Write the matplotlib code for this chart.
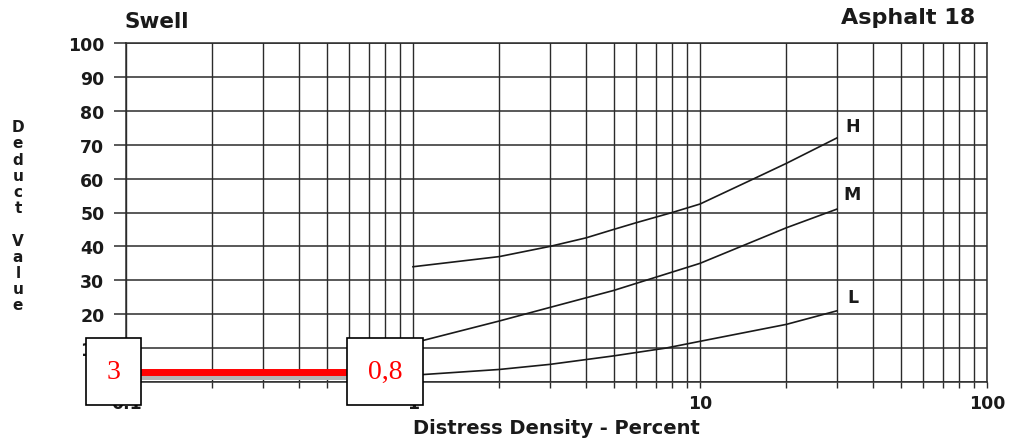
import matplotlib
matplotlib.use("Agg")
import matplotlib.pyplot as plt
from matplotlib.font_manager import FontProperties
from matplotlib.ticker import FixedLocator, FixedFormatter, NullFormatter

# Deduct curves for swell (asphalt), by severity level
density_h = [1, 2, 3, 4, 5, 6, 8, 10, 15, 20, 30]
deduct_h = [34, 37, 40, 42.5, 45, 47, 50, 52.5, 59.5, 64.5, 72]

density_m = [1, 2, 3, 5, 10, 20, 30]
deduct_m = [11.5, 18, 22, 27, 35, 45.5, 51]

density_l = [1, 2, 3, 5, 7.6, 10, 20, 30]
deduct_l = [2, 3.7, 5.2, 7.7, 10, 12, 17, 21]

severity_labels = ["H", "M", "L"]
label_x = 34
label_y = [75.5, 55.5, 25]

# Reading taken off the chart
reading_density = 0.8
reading_deduct = 3
reading_density_text = "0,8"
reading_deduct_text = "3"

x_major = [0.1, 1, 10, 100]
x_major_labels = ["0.1", "1", "10", "100"]
x_minor = [m * d for d in (0.1, 1, 10) for m in range(2, 10)]
y_major = list(range(0, 101, 10))
y_major_labels = [""] + [str(v) for v in y_major[1:]]

W, H = 1018, 439
fig = plt.figure(figsize=(W / 100, H / 100), dpi=100)
fig.patch.set_facecolor("white")
ax = fig.add_axes([126 / W, 1 - 383 / H, (987 - 126) / W, (383 - 44) / H])

ink = "#1a1a1a"
grid_col = "#2b2b2b"
ax.set_xscale("log")
ax.set_xlim(0.1, 100)
ax.set_ylim(0, 100)

ax.xaxis.set_major_locator(FixedLocator(x_major))
ax.xaxis.set_major_formatter(FixedFormatter(x_major_labels))
ax.xaxis.set_minor_locator(FixedLocator(x_minor))
ax.xaxis.set_minor_formatter(NullFormatter())
ax.yaxis.set_major_locator(FixedLocator(y_major))
ax.yaxis.set_major_formatter(FixedFormatter(y_major_labels))
ax.yaxis.set_minor_locator(FixedLocator([]))

ax.grid(True, which="both", axis="x", color=grid_col, lw=1.0)
ax.grid(True, which="major", axis="y", color=grid_col, lw=1.1)
for s in ax.spines.values():
    s.set_color(grid_col)
    s.set_linewidth(1.1)

tick_fp = FontProperties(family="DejaVu Sans", weight="bold", size=12.5)
ax.tick_params(axis="x", which="both", direction="out", length=4, width=1.0,
               color=grid_col, pad=5)
ax.tick_params(axis="y", which="major", direction="out", length=9, width=1.1,
               color=grid_col, pad=6.5)
for lab in ax.get_xticklabels() + ax.get_yticklabels():
    lab.set_fontproperties(tick_fp)
    lab.set_color(ink)

# Curves
for xs, ys in ((density_h, deduct_h), (density_m, deduct_m), (density_l, deduct_l)):
    ax.plot(xs, ys, color=ink, lw=1.2, zorder=3)

for s, ly in zip(severity_labels, label_y):
    ax.text(label_x, ly, s, ha="center", va="center", color=ink,
            fontsize=12.5, fontweight="bold", family="DejaVu Sans")

# Titles
fig.text(125 / W, 1 - 22 / H, "Swell", ha="left", va="center",
         fontsize=15.5, fontweight="bold", color=ink, family="DejaVu Sans")
fig.text(975 / W, 1 - 18 / H, "Asphalt 18", ha="right", va="center",
         fontsize=16, fontweight="bold", color=ink, family="DejaVu Sans")

# Axis labels
ax.set_xlabel("Distress Density - Percent", fontsize=14, fontweight="bold",
              family="DejaVu Sans", color=ink, labelpad=4)
ax.set_ylabel("D\ne\nd\nu\nc\nt\n\nV\na\nl\nu\ne", rotation=0, fontsize=11,
              fontweight="bold", family="DejaVu Sans", color=ink,
              linespacing=1.1, ha="center", va="center")
ax.yaxis.set_label_coords(-108 / 861, 0.49)

# Reading line with its two value boxes
ax.plot([x_major[0], reading_density], [reading_deduct - 1.5, reading_deduct - 1.5],
        color="#b4b4b4", lw=3.6, solid_capstyle="butt", zorder=4, clip_on=False)
ax.plot([x_major[0], reading_density], [reading_deduct, reading_deduct],
        color="#ff0000", lw=5, solid_capstyle="butt", zorder=5, clip_on=False)

box = dict(boxstyle="square,pad=0.75", facecolor="white", edgecolor="black", lw=1.2)
ax.text(reading_density, reading_deduct, reading_density_text, ha="center",
        va="center", fontsize=20, color="#ff0000", family="Liberation Serif",
        bbox=box, zorder=6, clip_on=False)
ax.annotate(reading_deduct_text, xy=(0, reading_deduct),
            xycoords=("axes fraction", "data"), xytext=(-9, 0),
            textcoords="offset points", ha="center", va="center", fontsize=20,
            color="#ff0000", family="Liberation Serif", bbox=box, zorder=6,
            annotation_clip=False)

fig.savefig("out.png", dpi=100, facecolor="white")
